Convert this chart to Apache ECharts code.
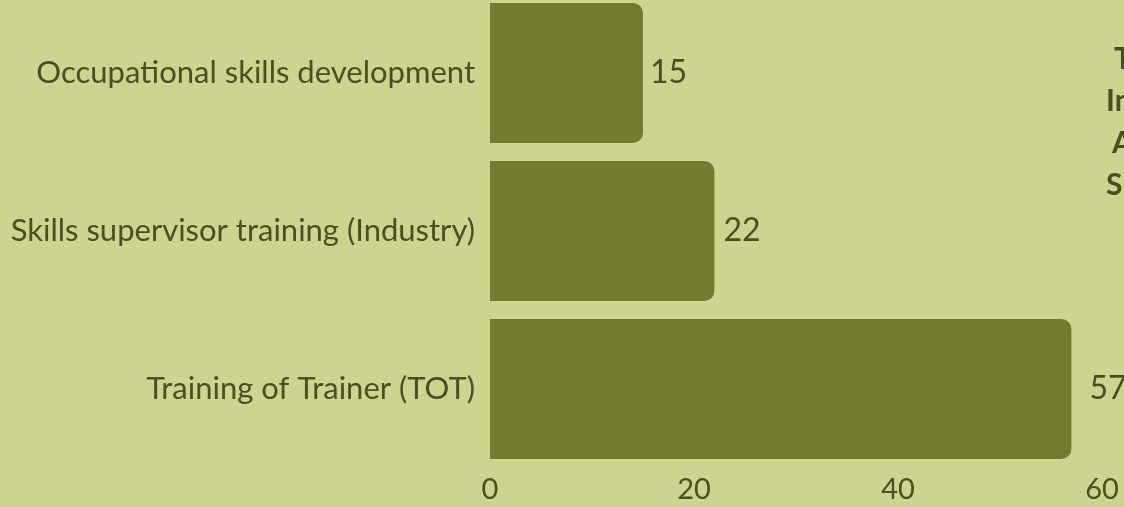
<!DOCTYPE html>
<html>
<head>
<meta charset="utf-8">
<script src="https://cdn.jsdelivr.net/npm/echarts@6/dist/echarts.min.js"></script>
<style>
  html, body { margin: 0; padding: 0; background: #ced490; }
  #chart { width: 1124px; height: 507px; }
</style>
</head>
<body>
<div id="chart"></div>
<script>
const categories = [
  "Training of Trainer (TOT)",
  "Skills supervisor training (Industry)",
  "Occupational skills development"
];
const values = [57, 22, 15];
const titleLines = ["Total", "Intake", "Across", "Subjects"];

const textColor = "#4a4f1f";
const fontFamily = "Lato, 'Noto Sans', sans-serif";

// labels sit a little further out on longer bars, as in the original
const barData = values.map(v => ({
  value: v,
  label: { distance: 3 + Math.round(v * 0.27) }
}));

// title lines are centred in the original, so each starts at a slightly different x
const titleIndent = [8, 0, 6, 0];
const titleRich = {};
titleLines.forEach((_, i) => {
  titleRich["l" + i] = {
    color: textColor,
    fontFamily: fontFamily,
    fontWeight: "bold",
    fontSize: 30,
    lineHeight: 42,
    padding: [0, 0, 0, titleIndent[i]]
  };
});

const chart = echarts.init(document.getElementById("chart"));
chart.setOption({
  backgroundColor: "#ced490",
  animation: false,
  title: {
    text: titleLines.map((t, i) => "{l" + i + "|" + t + "}").join("\n"),
    left: 1101,
    top: 33,
    textStyle: {
      color: textColor,
      fontFamily: fontFamily,
      fontWeight: "bold",
      fontSize: 30,
      lineHeight: 42,
      rich: titleRich
    }
  },
  grid: { left: 490, right: 22, top: -6, bottom: 39, outerBoundsMode: "none" },
  xAxis: {
    type: "value",
    min: 0,
    max: 60,
    interval: 20,
    axisLine: { show: false },
    axisTick: { show: false },
    splitLine: { show: false },
    axisLabel: {
      color: textColor,
      fontFamily: fontFamily,
      fontSize: 29,
      margin: 7
    }
  },
  yAxis: {
    type: "category",
    data: categories,
    axisLine: { show: false },
    axisTick: { show: false },
    axisLabel: {
      color: textColor,
      fontFamily: fontFamily,
      fontSize: 31,
      margin: 15,
      padding: [6, 0, 0, 0]
    }
  },
  series: [{
    type: "bar",
    data: barData,
    barCategoryGap: "11.4%",
    itemStyle: { color: "#747a30", borderRadius: [0, 10, 10, 0] },
    label: {
      show: true,
      position: "right",
      color: textColor,
      fontFamily: fontFamily,
      fontSize: 32
    }
  }]
});
</script>
</body>
</html>
